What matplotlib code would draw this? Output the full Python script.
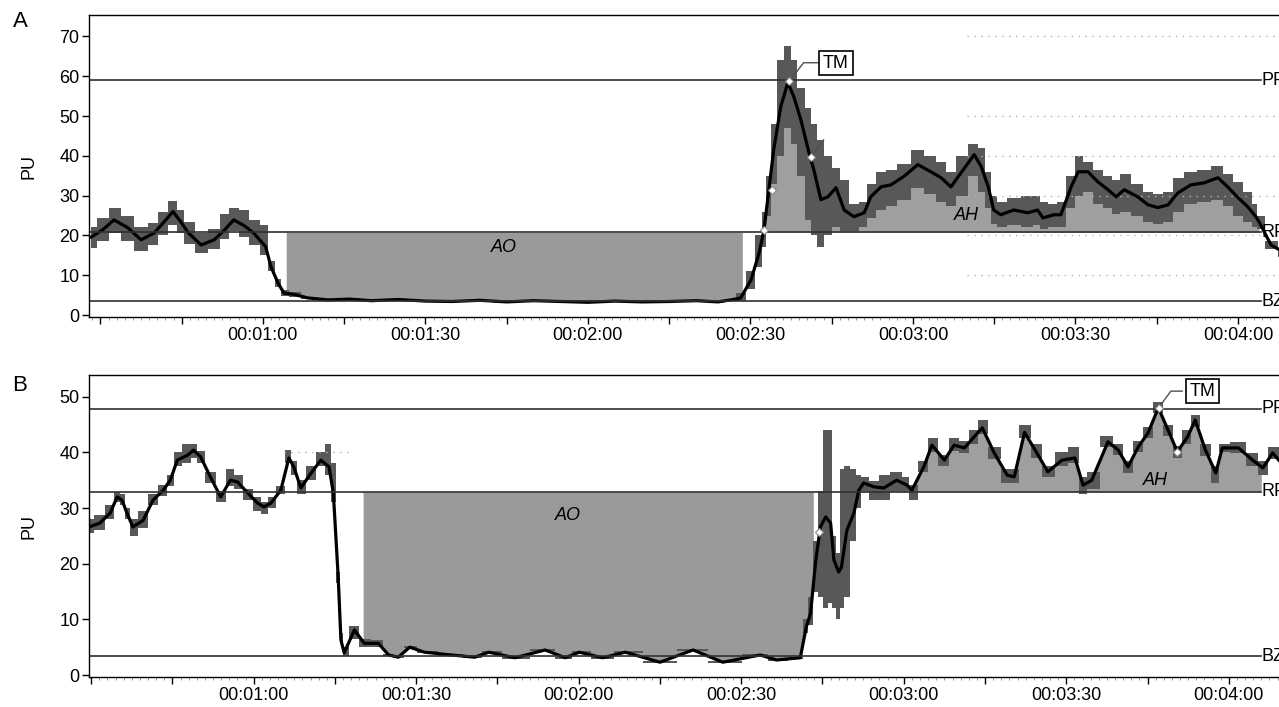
import numpy as np
import matplotlib
matplotlib.use("Agg")
import matplotlib.pyplot as plt
from matplotlib.ticker import MultipleLocator, FuncFormatter

plt.rcParams["font.family"] = ["Liberation Sans", "DejaVu Sans"]

FONT_SIZE = 13

# ---- panel A: time (s), smoothed flow (PU), raw signal envelope ----
A_TIME = [28.3, 30.5, 32.5, 35, 37.5, 39.9, 41.5, 43.4, 44.8, 46.2, 48.6, 51, 53, 54.6, 56.5, 58.3,
          60.5, 61.5, 62.8, 63.9, 65.7, 68.3, 72, 76, 80, 85, 90, 95, 100, 105, 110, 115, 120, 125,
          130, 135, 140, 144, 146.4, 148.2, 150.1, 151.6, 152.5, 153.4, 154.3, 155.6, 156.9, 158,
          159.3, 160.8, 161.7, 163, 164.3, 165.8, 167.3, 169.1, 171, 172.2, 174.1, 175.9, 178.3,
          180.9, 183.3, 185.2, 187, 188.9, 191.3, 192.6, 193.9, 194.9, 196.2, 198.6, 201.2, 203,
          204, 206, 207.3, 209.2, 210.5, 212.3, 214.1, 216, 217.5, 219, 221.5, 223.4, 225.2, 227.1,
          228.9, 231.3, 233.7, 236.3, 238.1, 240, 241.8, 243.3, 243.9, 246.1, 248.7]
A_FLOW = [19.6, 21.5, 23.9, 22, 18.9, 20.6, 23, 26, 23.5, 20.7, 17.6, 18.9, 21.5, 23.9, 22.5, 20.6,
          17.2, 12.1, 8, 5.5, 5.2, 4.3, 3.8, 4.0, 3.6, 3.9, 3.5, 3.4, 3.7, 3.3, 3.6, 3.4, 3.2, 3.5,
          3.3, 3.4, 3.6, 3.3, 3.8, 4.3, 8.8, 15.6, 21.4, 31.5, 41.6, 52.4, 58.4, 54.9,
          49.1, 40.8, 36.5, 29, 29.7, 32, 26.4, 24.7, 25.7, 29.7, 32.2, 32.7, 34.8,
          37.8, 36, 34.5, 32.2, 35.8, 40.3, 37.3, 32.2, 26.4, 25.2, 26.4, 25.7, 26.4,
          24.4, 25.2, 25.2, 32.2, 36, 36, 33.5, 31.5, 29.7, 31.5, 29.7, 27.7, 27, 27.7,
          30.7, 32.7, 33.2, 34.5, 32.2, 29.5, 27.2, 24.7, 23.4, 17.6, 15.6]
A_RAW_HI = [22, 24.5, 26.8, 25, 22, 23.2, 26, 28.6, 26.5, 23.5, 20.5, 21.5, 25.5, 27, 26.5, 24,
            22.5, 13.5, 9, 6.2, 5.8, 4.5, 4.0, 4.2, 3.8, 4.1, 3.7, 3.6, 3.9, 3.5, 3.8, 3.6, 3.4, 3.7,
            3.5, 3.6, 3.8, 3.5, 4.0, 5.5, 11, 20, 26, 35, 48, 64, 67.5, 64,
            57, 52, 48, 44, 40, 37, 34, 28, 28.5, 33, 36, 36.5, 38,
            41.5, 40, 38.5, 36, 40, 43, 42, 36, 30, 28.5, 29.5, 30, 30,
            28.5, 28, 28.5, 35, 40, 38.5, 36.5, 35, 34, 35.5, 33, 31, 30.5, 31,
            34.5, 36, 36.5, 37.5, 35.5, 33.5, 31, 28, 25, 18.5, 16.5]
A_RAW_LO = [16.8, 18.5, 20.5, 18.5, 16.2, 17.5, 20, 22.5, 20.5, 17.8, 15.6, 16.5, 19, 21, 19.5, 17.5,
            15, 11, 7, 4.8, 4.6, 4.1, 3.6, 3.8, 3.4, 3.7, 3.3, 3.2, 3.5, 3.1, 3.4, 3.2, 3.0, 3.3,
            3.1, 3.2, 3.4, 3.1, 3.6, 3.5, 6.5, 12, 17, 25, 33, 40, 47, 43,
            35, 24, 20, 17, 20, 22, 21, 21, 22, 24.5, 26.5, 27.5, 29,
            32, 30.5, 28.5, 27.5, 30, 35, 31, 27, 23, 22, 22.5, 22, 22.5,
            21.5, 22, 22, 27, 30, 31, 28, 27, 25.5, 26, 25, 23.5, 23, 23.5,
            26, 28, 28.5, 29, 27.5, 25, 23.5, 22, 21.5, 16.5, 14.5]
A_REF_NAMES = ["PF", "RF", "BZ"]
A_REF_VALUES = [59, 20.8, 3.4]
A_AO_SPAN = [64.3, 148.5]
A_AH_SPAN = [152.5, 243.9]
A_GRID_VALUES = [10, 20, 30, 40, 50, 70]
A_MARKERS_T = [152.5, 154.0, 157.2, 161.1]
A_MARKERS_V = [21.4, 31.4, 58.8, 39.7]

# ---- panel B ----
B_TIME = [29.6, 31.6, 33.5, 34.8, 35.7, 36.6, 37.7, 39.6, 41.4, 43.3, 44.6, 45.9, 47.8, 48.9, 50.2,
          52, 53.9, 55.7, 57, 58.9, 60.7, 61.9, 63.2, 65, 66.5, 67.4, 68.7, 70.6, 72.4, 73.9, 74.7,
          75.6, 76.1, 76.7, 78.6, 80.4, 83, 84.9, 86.7, 88.8, 91.5, 96.5, 100.8, 103.4, 108.2,
          113.8, 117.5, 120.1, 124.4, 128.6, 135, 141.1, 146.6, 153.5, 156.5, 160.9, 162, 162.8,
          163.7, 164.6, 165.6, 166.5, 167.1, 168, 168.5, 169.5, 170.8, 171.7, 172.6, 174.5, 176.3,
          178.7, 180.6, 181.5, 183.7, 185.2, 187.5, 189.3, 191.2, 193, 194.5, 196.7, 199.1, 200.4,
          202.3, 204.5, 206.6, 209.2, 211.6, 213.1, 214.7, 217.7, 219.6, 221.4, 223.3, 225.1, 227,
          228.8, 230.5, 232.4, 233.8, 235.7, 237.6, 238.8, 241.8, 244.4, 246.3, 248.1, 250.3]
B_FLOW = [26.6, 27.3, 29.1, 32, 31.4, 29.1, 26.6, 27.8, 31.4, 33.2, 35, 38.6, 39.5, 40.4, 39.2,
          35.6, 32, 35, 34.7, 32.7, 30.9, 30.2, 30.9, 33.2, 39, 37.4, 33.6, 36.3, 38.6, 37.4, 32.7,
          17.6, 6.3, 4, 8.1, 5.7, 5.7, 3.6, 3.2, 5, 4.1, 3.6, 3.2, 4.1, 3.1,
          4.5, 3.1, 4.1, 3.1, 4.1, 2.3, 4.5, 2.3, 3.6, 2.7, 3.1, 8.6, 11.1,
          20.1, 26.6, 28.4, 27.3, 20.7, 18.5, 19.4, 26, 29.1, 33.2, 34.5, 33.8, 33.6,
          35, 34.1, 33.2, 37.4, 41.3, 38.6, 41.3, 40.8, 42.8, 44.4, 39.9, 35.9, 35.6,
          43.6, 40, 36.5, 38.6, 39, 34.1, 35, 41.9, 40.4, 37.4, 41, 43.5, 48,
          44, 40.1, 42.8, 45.8, 40.4, 36.3, 40.8, 40.8, 38.6, 37.2, 39.9, 37.4]
B_RAW_HI = [28, 28.8, 30.5, 32.8, 32.5, 30, 28, 29.5, 32.5, 34.2, 36, 40, 41.5, 41.5, 40.2,
            36.5, 33, 37, 36, 33.5, 32, 31, 32, 34, 40.5, 38.5, 35, 37.5, 40, 41.5, 38,
            18.5, 7.5, 5, 8.8, 6.5, 6.3, 3.8, 3.4, 5.2, 4.3, 3.8, 3.4, 4.3, 3.3,
            4.7, 3.3, 4.3, 3.3, 4.3, 2.5, 4.7, 2.5, 3.8, 2.9, 3.3, 10, 14,
            24, 33, 44, 44, 25, 22, 37, 37.5, 37, 36, 35.5, 34.8, 36,
            36.5, 35.5, 34.2, 38.5, 42.5, 39.5, 42.5, 42, 44, 45.8, 41, 37, 37,
            45, 41.5, 37.5, 40, 41, 35.5, 36.5, 43, 41.5, 38.5, 42, 44.5, 49,
            45, 41.2, 44, 46.8, 41.5, 37.5, 41.5, 41.8, 39.8, 38.5, 41, 38.5]
B_RAW_LO = [25.5, 26, 28, 31, 30.5, 28, 25, 26.5, 30.5, 32.2, 34, 37.5, 38, 39, 38,
            34.5, 31, 34, 33.5, 31.5, 29.5, 29, 30, 32.5, 38, 36, 32.5, 35, 37.5, 36, 31,
            16.5, 5.5, 3.5, 6.5, 5, 5, 3.4, 3.0, 4.8, 3.9, 3.4, 3.0, 3.9, 2.9,
            4.3, 2.9, 3.9, 2.9, 3.9, 2.1, 4.3, 2.1, 3.4, 2.5, 2.9, 7.5, 9,
            15, 14, 12, 13, 12, 10, 12, 14, 24, 30, 33, 31.5, 31.5,
            33, 33, 31.5, 36.5, 40, 37.5, 40.2, 39.8, 41.5, 43.3, 38.8, 34.5, 34.5,
            42.5, 39, 35.5, 37.5, 38, 32.5, 33.5, 41, 39.5, 36.3, 40, 42.5, 47,
            43, 39, 41.5, 44.5, 39.3, 34.5, 40, 39.8, 37.5, 36, 38.8, 36.2]
B_REF_NAMES = ["PF", "RF", "BZ"]
B_REF_VALUES = [47.8, 32.9, 3.4]
B_AO_SPAN = [80.2, 163.3]
B_AH_SPAN = [171.0, 246.0]
B_MARKERS_T = [164.4, 230.5, 227.2]
B_MARKERS_V = [25.7, 40.1, 48.0]


def hms(t, pos):
    if t < 59 or abs(t % 30) > 0.01:
        return ""
    t = int(round(t))
    return f"00:{t // 60:02d}:{t % 60:02d}"


def region(t, v, span):
    t = np.asarray(t, float)
    v = np.asarray(v, float)
    inside = (t > span[0]) & (t < span[1])
    xs = np.concatenate([[span[0]], t[inside], [span[1]]])
    ys = np.concatenate([[np.interp(span[0], t, v)], v[inside], [np.interp(span[1], t, v)]])
    return xs, ys


def draw_panel(ax, t, flow, hi, lo, names, levels, ao, ah, xlim, ylim, ytop, line_end):
    rf = levels[1]

    xs, ys = region(t, flow, ao)
    ax.fill_between(xs, ys, rf, color="#9a9a9a", lw=0)
    xs, ys = region(t, flow, ah)
    ax.fill_between(xs, np.maximum(ys, rf), rf, color="#9f9f9f", lw=0)

    ax.fill_between(t, lo, hi, step="mid", color="#585858", lw=0)
    ax.plot(t, flow, color="black", lw=2.3)

    for name, val in zip(names, levels):
        ax.plot([xlim[0], line_end], [val, val], color="#303030", lw=1.2)
        ax.text(line_end + 0.1, val, name, fontsize=FONT_SIZE, ha="left", va="center", clip_on=False)

    ax.set_xlim(*xlim)
    ax.set_ylim(*ylim)
    ax.set_yticks(np.arange(0, ytop + 1, 10))
    ax.xaxis.set_major_locator(MultipleLocator(15))
    ax.xaxis.set_minor_locator(MultipleLocator(1.5))
    ax.xaxis.set_major_formatter(FuncFormatter(hms))
    ax.tick_params(axis="both", which="major", labelsize=FONT_SIZE, length=5, width=1, pad=2)
    ax.tick_params(axis="x", which="minor", length=2, width=0.6, color="#888888")
    ax.set_ylabel("PU", fontsize=FONT_SIZE)
    ax.yaxis.set_label_coords(-0.041, 0.5)
    for s in ax.spines.values():
        s.set_linewidth(1.0)


def main():
    fig = plt.figure(figsize=(12.79, 7.07), dpi=100)
    axA = fig.add_axes([0.0696, 0.5516, 0.975, 0.4272])
    axB = fig.add_axes([0.0696, 0.0424, 0.975, 0.4272])

    # panel A
    for g in A_GRID_VALUES:
        axA.plot([190, 260], [g, g], color="#b5b5b5", lw=1, ls=(0, (1, 4)))
    draw_panel(axA, A_TIME, A_FLOW, A_RAW_HI, A_RAW_LO, A_REF_NAMES, A_REF_VALUES,
               A_AO_SPAN, A_AH_SPAN, (27.9, 258.1), (-0.5, 75.4), 70, 244.2)
    axA.text(104.5, 17.0, "AO", fontsize=FONT_SIZE, style="italic", ha="center", va="center")
    axA.text(189.9, 24.9, "AH", fontsize=FONT_SIZE, style="italic", ha="center", va="center")
    axA.plot([157.4, 159.8, 162.6], [59.1, 63.4, 63.4], color="#505050", lw=1)
    axA.plot([161.1, 163.5], [39.7, 44.0], color="#505050", lw=1)
    axA.text(165.8, 63.3, "TM", fontsize=FONT_SIZE, ha="center", va="center",
             bbox=dict(boxstyle="square,pad=0.2", facecolor="white", edgecolor="black", lw=1.2))
    axA.plot(A_MARKERS_T, A_MARKERS_V, ls="none", marker="D", ms=4, mfc="white", mec="#888888", mew=0.8)

    # panel B
    axB.plot([65.6, 77.4], [40, 40], color="#b5b5b5", lw=1, ls=(0, (1, 4)))
    draw_panel(axB, B_TIME, B_FLOW, B_RAW_HI, B_RAW_LO, B_REF_NAMES, B_REF_VALUES,
               B_AO_SPAN, B_AH_SPAN, (29.6, 259.8), (-0.36, 53.9), 50, 245.9)
    axB.text(118.0, 28.7, "AO", fontsize=FONT_SIZE, style="italic", ha="center", va="center")
    axB.text(226.4, 35.0, "AH", fontsize=FONT_SIZE, style="italic", ha="center", va="center")
    axB.plot([227.2, 229.3, 231.4], [48.2, 51.0, 51.0], color="#505050", lw=1)
    axB.text(235.1, 51.0, "TM", fontsize=FONT_SIZE, ha="center", va="center",
             bbox=dict(boxstyle="square,pad=0.2", facecolor="white", edgecolor="black", lw=1.2))
    axB.plot(B_MARKERS_T, B_MARKERS_V, ls="none", marker="D", ms=4, mfc="white", mec="#888888", mew=0.8)

    fig.text(0.0156, 0.969, "A", fontsize=16, ha="center", va="center")
    fig.text(0.0156, 0.455, "B", fontsize=16, ha="center", va="center")

    fig.savefig("out.png", dpi=100)


if __name__ == "__main__":
    main()
